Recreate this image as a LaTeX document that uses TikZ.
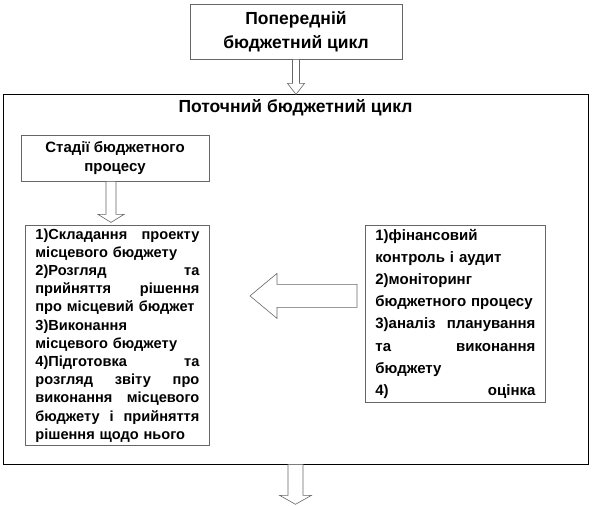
\documentclass[tikz,border=0pt]{standalone}
\usepackage{fontspec}
\setmainfont{Liberation Sans}
\usetikzlibrary{calc}

\begin{document}
\begin{tikzpicture}[x=1pt,y=-1pt,
 box/.style={draw=gray!80!black,line width=0.8pt,fill=white,align=center,inner sep=0pt},
 lst/.style={draw=gray!80!black,line width=0.8pt,anchor=north west,align=left,
  inner xsep=10pt,inner ysep=0pt},
 barrow/.style={draw=gray!80!black,fill=white,line width=0.6pt,line join=miter}]
\useasboundingbox (0,0) rectangle (592,506);
\node[draw,line width=0.6pt,minimum width=585pt,minimum height=370pt] (cur) at (295.5,279) {};
\node[font=\bfseries\fontsize{17.5}{20}\selectfont] (ttl) at (295.5,108) {Поточний бюджетний цикл};
\node[box,minimum width=212pt,minimum height=55pt,font=\bfseries\fontsize{17.5}{24}\selectfont]
 (prev) at (296,31.5) {Попередній\\бюджетний цикл};
\node[box,minimum width=188pt,minimum height=46pt,font=\bfseries\fontsize{15}{19}\selectfont]
 (stage) at (115,158) {Стадії бюджетного\\процесу};
\node[lst,text width=164pt,minimum height=220pt,font=\bfseries\fontsize{14.6}{18.2}\selectfont]
 (stages) at (25,225) {1)Складання\hfill проекту\\ місцевого бюджету\\ 2)Розгляд\hfill та\\
 прийняття\hfill рішення\\ про місцевий бюджет\\ 3)Виконання\\ місцевого бюджету\\
 4)Підготовка\hfill та\\ розгляд\hfill звіту\hfill про\\ виконання\hfill місцевого\\
 бюджету\hfill і\hfill прийняття\\ рішення щодо нього};
\node[lst,text width=160pt,minimum height=177pt,font=\bfseries\fontsize{15}{22.1}\selectfont]
 (ctrl) at (365,225) {1)фінансовий\\ контроль і аудит\\ 2)моніторинг\\ бюджетного процесу\\
 3)аналіз\hfill планування\\ та\hfill виконання\\ бюджету\\ 4)\hfill оцінка};
% block arrows
\draw[barrow] ([xshift=-3.5pt]prev.south) -- ++(0,24) -- ++(-5,0) -- ++(8.5,11)
 -- ++(8.5,-11) -- ++(-5,0) -- ([xshift=3.5pt]prev.south) -- cycle;
\coordinate (sa) at ([xshift=-4pt]stage.south);
\draw[barrow] ([xshift=-5pt]sa) -- ++(0,33) -- ++(-8,0) -- ++(13,8)
 -- ++(13,-8) -- ++(-8,0) -- ([xshift=5pt]sa) -- cycle;
\path (ctrl.west) ++(-8,-18) coordinate (tail);
\draw[barrow] (tail) -- ++(0,-11.5) -- ++(-80,0) -- ++(0,-11) -- ++(-27,22.5)
 -- ++(27,22.5) -- ++(0,-11) -- ++(80,0) -- cycle;
\draw[barrow] ([xshift=-7.5pt]cur.south) -- ++(0,31) -- ++(-8.5,0) -- ++(16,9)
 -- ++(16,-9) -- ++(-8.5,0) -- ([xshift=7.5pt]cur.south) -- cycle;
\end{tikzpicture}
\end{document}
